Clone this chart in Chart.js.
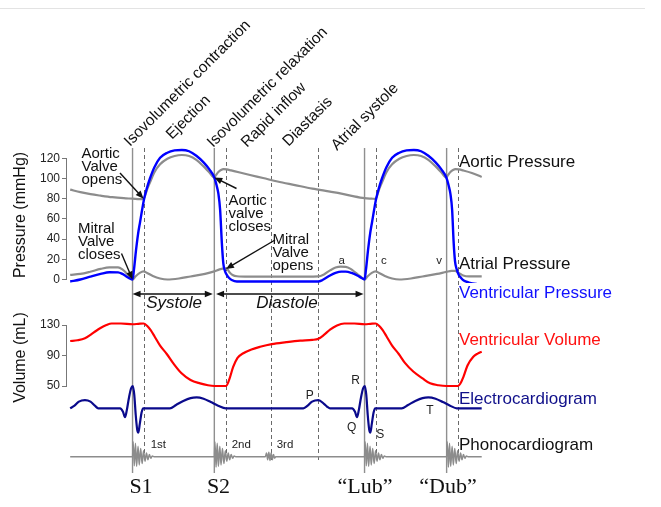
<!DOCTYPE html>
<html><head><meta charset="utf-8">
<script src="https://cdn.jsdelivr.net/npm/chart.js@4.4.0/dist/chart.umd.min.js"></script>
<style>
html,body{margin:0;padding:0;background:#fff;}
#wrap{position:relative;width:661px;height:507px;overflow:hidden;background:#fff;}
#rule{position:absolute;left:0;top:8px;width:645px;height:1px;background:#e3e3e3;}
canvas{position:absolute;left:0;top:0;}
</style></head><body>
<div id="wrap"><div id="rule"></div><canvas id="c" width="661" height="507"></canvas></div>
<script>
// ---- time in ms (S1 = 0) ----
const ventT = [-215,-180,-146,-110,-80,-50,-35,-20,-8,0,5,12,19,26,33,40,49,60,75,95,120,145,170,195,220,245,265,282,290,296,302,308,313,318,325,333,342,360,450,550,640,655,681,700,720,735,755,775,790,800,805,812,819,826,833,840,849,860,875,895,920,945,970,995,1020,1045,1065,1082,1090,1096,1102,1107,1112,1118,1125,1133,1142,1160,1185,1204];
const ventP = [-2,0,2.8,5.5,7.2,7.1,5.5,2.8,0.8,0,10,29,45,57,69,80,90,100,111,120.5,125.5,127.8,128.3,127,122.5,116,109,101,93,85,69,36,16,9,4.5,1.5,-0.5,-2,-2,-2,-2,-0.5,4,6.5,7.8,7.8,6.5,4,1.5,0,10,29,45,57,69,80,90,100,111,120.5,125.5,127.8,128.3,127,122.5,116,109,101,93,85,69,38,18,10,4.5,1.5,-1,-3,-4.5,-5];

const aoT = [-215,-180,-145,-110,-70,-30,0,25,38,44,50,60,75,95,120,145,170,195,220,245,265,282,288,296,305,314,325,340,370,405,450,500,560,620,681,720,760,800,825,838,844,850,860,875,895,920,945,970,995,1020,1045,1065,1082,1088,1096,1105,1114,1125,1140,1170,1204];
const aoP = [89,86.5,84.5,83,81.5,80.5,80,79.5,79.8,83.5,89,96,106,114,119.5,122.3,123.3,122.3,118.5,112,106,101,103.5,106.5,108.5,109.3,109,108,106,103.5,100.5,97,93.5,90,87,85,82.5,80.5,80,79.8,83.5,89,96,106,114,119.5,122.3,123.3,122.3,118.5,112,106,101,103.5,106.5,108.5,109.3,109,108,105.5,101.5];

const atT = [-215,-180,-146,-110,-80,-50,-35,-20,-8,0,10,25,38,50,70,95,120,160,200,250,282,300,318,326,335,345,360,400,500,600,640,660,681,700,718,735,752,770,788,800,810,825,838,850,870,895,920,960,1000,1050,1082,1100,1112,1125,1140,1160,1204];
const atP = [4.5,5.5,7.7,10.5,12,12,10,6,2.5,0,3,6.5,8,6.5,3.5,1,0,1,3,5.5,8,10,11,10.5,7,4.5,3.2,2.8,2.8,2.8,3,5,9,11.8,12.7,12.5,10.5,6.5,2.5,0,3,6.5,8,6.5,3.5,1,0,1,3,5.5,7.5,8.5,8.5,6.5,4,3,3];

const volT = [-215,-190,-164,-145,-125,-112,-90,-72,-40,0,20,38,50,62,76,95,118,140,168,200,233,260,282,322,333,347,362,382,410,440,480,530,578,620,641,660,681,705,730,765,800,820,838,850,862,876,895,918,940,968,1000,1026,1055,1082,1122,1130,1141,1155,1175,1190,1204];
const volV = [109,110,112.5,117,122.5,125.7,130,132,132,131,131.5,132,129,123.5,115,103,92,80,67,58,53.5,51,50,50,58,75,87,93,98,101.5,105,107.5,109.5,110.5,112,117,124,129.5,132,132,131,131.5,132,129,123.5,115,103,92,80,69,60,53.5,51,50,50,53,62,77,88.4,92.5,95];

const ecgT = [-215,-200,-185,-164,-145,-130,-118,-43,-33,-26,-20,-12,-5,1,6,11,16,20,25,31,37,129,150,175,200,221,245,270,295,322,589,604,619,641,660,672,681,757,767,774,780,788,795,801,806,811,816,820,825,831,837,928,950,975,1000,1020,1045,1070,1095,1118,1204];
const ecgV = [0,0.12,0.3,0.37,0.3,0.12,0,0,-0.15,-0.4,-0.1,0.5,0.9,1.0,0.6,-0.3,-0.95,-1.09,-0.7,-0.2,0,0,0.15,0.33,0.46,0.49,0.43,0.28,0.12,0,0,0.12,0.3,0.37,0.2,0.06,0,0,-0.15,-0.4,-0.1,0.5,0.9,1.0,0.6,-0.3,-0.95,-1.09,-0.7,-0.2,0,0,0.15,0.33,0.46,0.49,0.43,0.28,0.12,0,0];

const phT = [-215,0,2,6,10,14,19,23,28,33,38,43,48,53,58,63,68,74,282,284,288,292,296,301,305,310,315,320,325,330,335,340,345,350,356,458,462,466,470,474,478,482,486,490,494,800,802,806,810,814,819,823,828,833,838,843,848,853,858,863,868,874,1083,1085,1089,1093,1097,1102,1106,1111,1116,1121,1126,1131,1136,1141,1146,1151,1157,1204];
const phV = [0,0,10,-6,9,-6.5,7,-5.5,5.5,-4.5,4,-3,2.5,-2,1.5,-1,0.5,0,0,10,-7,9,-6.5,7,-5.5,5.5,-4.5,4,-3,2.5,-2,1.5,-1,0.5,0,0,2.5,-2,3,-2.5,2.5,-2,1.5,-1,0,0,10,-6,9,-6.5,7,-5.5,5.5,-4.5,4,-3,2.5,-2,1.5,-1,0.5,0,0,10,-7,9,-6.5,7,-5.5,5.5,-4.5,4,-3,2.5,-2,1.5,-1,0.5,0,0];

const solidLines = [0,282,800,1083];
const dashedLines = [38,322,479,641,838,1122];
const pressureTicks = [0,20,40,60,80,100,120];
const volumeTicks = [50,90,130];
const phaseLabels = ['Isovolumetric contraction','Ejection','Isovolumetric relaxation','Rapid inflow','Diastasis','Atrial systole'];

// ---- build ----
const zip = (ts, vs) => ts.map((t,i) => ({x:t, y:vs[i]}));
const SANS = '"Liberation Sans", Arial, Helvetica, sans-serif';
const SERIF = '"Liberation Serif", "Times New Roman", serif';
const GRAY = '#8c8c8c';

function txt(ctx, s, x, y, size, color, align, rot, style) {
  ctx.save();
  ctx.font = (style ? style + ' ' : '') + size + 'px ' + (rot === 'serif' ? SERIF : SANS);
  ctx.fillStyle = color; ctx.textAlign = align || 'left'; ctx.textBaseline = 'alphabetic';
  ctx.translate(x, y);
  if (typeof rot === 'number' && rot) ctx.rotate(rot);
  ctx.fillText(s, 0, 0);
  ctx.restore();
}
function head(ctx, x1, y1, x2, y2, len, w) {
  const a = Math.atan2(y2 - y1, x2 - x1);
  ctx.beginPath(); ctx.moveTo(x2, y2);
  ctx.lineTo(x2 - len*Math.cos(a) + w*Math.sin(a), y2 - len*Math.sin(a) - w*Math.cos(a));
  ctx.lineTo(x2 - len*Math.cos(a) - w*Math.sin(a), y2 - len*Math.sin(a) + w*Math.cos(a));
  ctx.closePath(); ctx.fill();
}
function arrow(ctx, x1, y1, x2, y2) {
  const a = Math.atan2(y2 - y1, x2 - x1);
  ctx.beginPath(); ctx.moveTo(x1, y1); ctx.lineTo(x2 - 6*Math.cos(a), y2 - 6*Math.sin(a)); ctx.stroke();
  head(ctx, x1, y1, x2, y2, 8, 3.3);
}
function dblArrow(ctx, xa, xb, y) {
  ctx.beginPath(); ctx.moveTo(xa + 5, y); ctx.lineTo(xb - 5, y); ctx.stroke();
  head(ctx, xb, y, xa, y, 8, 3.3);
  head(ctx, xa, y, xb, y, 8, 3.3);
}

const overlay = {
  id: 'overlay',
  beforeDatasetsDraw(chart) {
    const ctx = chart.ctx, x = chart.scales.x;
    ctx.save();
    ctx.strokeStyle = '#8f8f8f'; ctx.lineWidth = 1.4;
    solidLines.forEach(t => {
      const px = x.getPixelForValue(t);
      ctx.beginPath(); ctx.moveTo(px, 148); ctx.lineTo(px, 473); ctx.stroke();
    });
    ctx.setLineDash([4, 3]); ctx.strokeStyle = '#6a6a6a'; ctx.lineWidth = 1;
    dashedLines.forEach(t => {
      const px = Math.round(x.getPixelForValue(t)) + 0.5;
      ctx.beginPath(); ctx.moveTo(px, 148); ctx.lineTo(px, 463); ctx.stroke();
    });
    ctx.restore();
  },
  afterDraw(chart) {
    const ctx = chart.ctx, s = chart.scales, x = s.x, yP = s.yP, yV = s.yV;
    ctx.save();
    // axis lines
    ctx.strokeStyle = '#777'; ctx.lineWidth = 1;
    const ax = chart.chartArea.left - 0.5;
    ctx.beginPath(); ctx.moveTo(ax, yP.getPixelForValue(0)); ctx.lineTo(ax, yP.getPixelForValue(120)); ctx.stroke();
    ctx.beginPath(); ctx.moveTo(ax, yV.getPixelForValue(50)); ctx.lineTo(ax, yV.getPixelForValue(130)); ctx.stroke();

    // phase labels
    const phasePos = [[130,147],[172,140],[213,148],[247,148],[288.5,147],[337,151]];
    phaseLabels.forEach((l, i) => txt(ctx, l, phasePos[i][0], phasePos[i][1], 15.5, '#111', 'left', -Math.PI/4));

    // right labels
    txt(ctx, 'Aortic Pressure', 459, 166.5, 17, '#111');
    txt(ctx, 'Atrial Pressure', 459, 269, 17, '#111');
    txt(ctx, 'Ventricular Pressure', 459, 298, 17, '#1010ff');
    txt(ctx, 'Ventricular Volume', 459, 345, 17, '#ff1010');
    txt(ctx, 'Electrocardiogram', 459, 404, 17, '#10108a');
    txt(ctx, 'Phonocardiogram', 459, 450, 17, '#111');

    // annotations
    const lines3 = (arr, x0, y0) => arr.forEach((l, i) => txt(ctx, l, x0, y0 + i*13, 15, '#111'));
    lines3(['Aortic','Valve','opens'], 81.5, 158);
    lines3(['Aortic','valve','closes'], 228.5, 205);
    lines3(['Mitral','Valve','opens'], 272.5, 244);
    lines3(['Mitral','Valve','closes'], 78, 233);
    ctx.strokeStyle = '#111'; ctx.fillStyle = '#111'; ctx.lineWidth = 1.4;
    arrow(ctx, 120, 173, x.getPixelForValue(38), yP.getPixelForValue(80));
    arrow(ctx, 236.5, 188.5, x.getPixelForValue(282), yP.getPixelForValue(101));
    arrow(ctx, 275, 240, x.getPixelForValue(322), yP.getPixelForValue(10.5));
    arrow(ctx, 121.5, 253.5, x.getPixelForValue(0), yP.getPixelForValue(0));

    // systole / diastole
    dblArrow(ctx, x.getPixelForValue(0), x.getPixelForValue(282) - 1.5, 294);
    dblArrow(ctx, x.getPixelForValue(288), x.getPixelForValue(800) - 1, 294);
    txt(ctx, 'Systole', 174, 308, 17, '#111', 'center', 0, 'italic');
    txt(ctx, 'Diastole', 287, 308, 17, '#111', 'center', 0, 'italic');

    // small wave labels
    txt(ctx, 'a', 341.7, 264, 11.5, '#222', 'center');
    txt(ctx, 'c', 383.8, 264, 11.5, '#222', 'center');
    txt(ctx, 'v', 439, 264, 11.5, '#222', 'center');
    txt(ctx, 'P', 309.7, 398.5, 12, '#222', 'center');
    txt(ctx, 'R', 355.5, 383.5, 12, '#222', 'center');
    txt(ctx, 'Q', 351.7, 431, 12, '#222', 'center');
    txt(ctx, 'S', 380.3, 437.5, 12, '#222', 'center');
    txt(ctx, 'T', 430, 414, 12, '#222', 'center');
    txt(ctx, '1st', 150.7, 447.5, 11.5, '#222');
    txt(ctx, '2nd', 231.7, 447.5, 11.5, '#222');
    txt(ctx, '3rd', 276.7, 447.5, 11.5, '#222');

    // heart sounds
    txt(ctx, 'S1', 141, 493, 22, '#111', 'center', 'serif');
    txt(ctx, 'S2', 218.5, 493, 22, '#111', 'center', 'serif');
    txt(ctx, '\u201CLub\u201D', 365, 493, 22, '#111', 'center', 'serif');
    txt(ctx, '\u201CDub\u201D', 448, 493, 22, '#111', 'center', 'serif');
    ctx.restore();
  }
};

const lineDs = (label, data, color, width, axis) => ({
  label, data, borderColor: color, borderWidth: width, yAxisID: axis,
  pointRadius: 0, fill: false, cubicInterpolationMode: 'monotone'
});

const fixWidth = sc => { sc.width = 60; };
const tickFont = {family: '"Liberation Sans", Arial, sans-serif', size: 12};
const titleFont = {family: '"Liberation Sans", Arial, sans-serif', size: 16};

new Chart(document.getElementById('c'), {
  type: 'line',
  data: {
    datasets: [
      lineDs('Ventricular Pressure', zip(ventT, ventP), '#0000ff', 2.4, 'yP'),
      lineDs('Aortic Pressure', zip(aoT, aoP), GRAY, 2.2, 'yP'),
      lineDs('Atrial Pressure', zip(atT, atP), GRAY, 2.2, 'yP'),
      lineDs('Ventricular Volume', zip(volT, volV), '#ff0000', 2.2, 'yV'),
      lineDs('Electrocardiogram', zip(ecgT, ecgV), '#0a0a8c', 2.2, 'yE'),
      lineDs('Phonocardiogram', zip(phT, phV), GRAY, 1.5, 'yS')
    ]
  },
  options: {
    responsive: false, animation: false, devicePixelRatio: 1,
    layout: {padding: {left: 7, top: 147, right: 179, bottom: 27}},
    plugins: {legend: {display: false}, tooltip: {enabled: false}, title: {display: false}},
    scales: {
      x: {type: 'linear', min: -226, max: 1205, display: false},
      yP: {
        type: 'linear', position: 'left', stack: 'L', stackWeight: 136, weight: 3,
        min: -3.47, max: 131.2,
        afterBuildTicks: sc => { sc.ticks = pressureTicks.map(v => ({value: v})); },
        afterFit: fixWidth,
        ticks: {font: tickFont, color: '#222', padding: 2, autoSkip: false},
        grid: {drawOnChartArea: false, drawTicks: true, tickLength: 5, color: '#777'},
        border: {display: false},
        title: {display: true, text: 'Pressure (mmHg)', font: titleFont, color: '#111', padding: {top: 4, bottom: 4}}
      },
      yV: {
        type: 'linear', position: 'left', stack: 'L', stackWeight: 149, weight: 2,
        min: -10.3, max: 185.1,
        afterBuildTicks: sc => { sc.ticks = volumeTicks.map(v => ({value: v})); },
        afterFit: fixWidth,
        ticks: {font: tickFont, color: '#222', padding: 2, autoSkip: false},
        grid: {drawOnChartArea: false, drawTicks: true, tickLength: 5, color: '#777'},
        border: {display: false},
        title: {display: true, text: 'Volume (mL)', font: titleFont, color: '#111', padding: {top: 4, bottom: 4}}
      },
      yS: {
        type: 'linear', position: 'left', stack: 'L', stackWeight: 48, weight: 1,
        min: -15.53, max: 16.47,
        afterFit: fixWidth,
        ticks: {display: false}, grid: {display: false}, border: {display: false}
      },
      yE: {type: 'linear', position: 'right', min: -3.215, max: 11.72, display: false}
    }
  },
  plugins: [overlay]
});
</script>
</body></html>
